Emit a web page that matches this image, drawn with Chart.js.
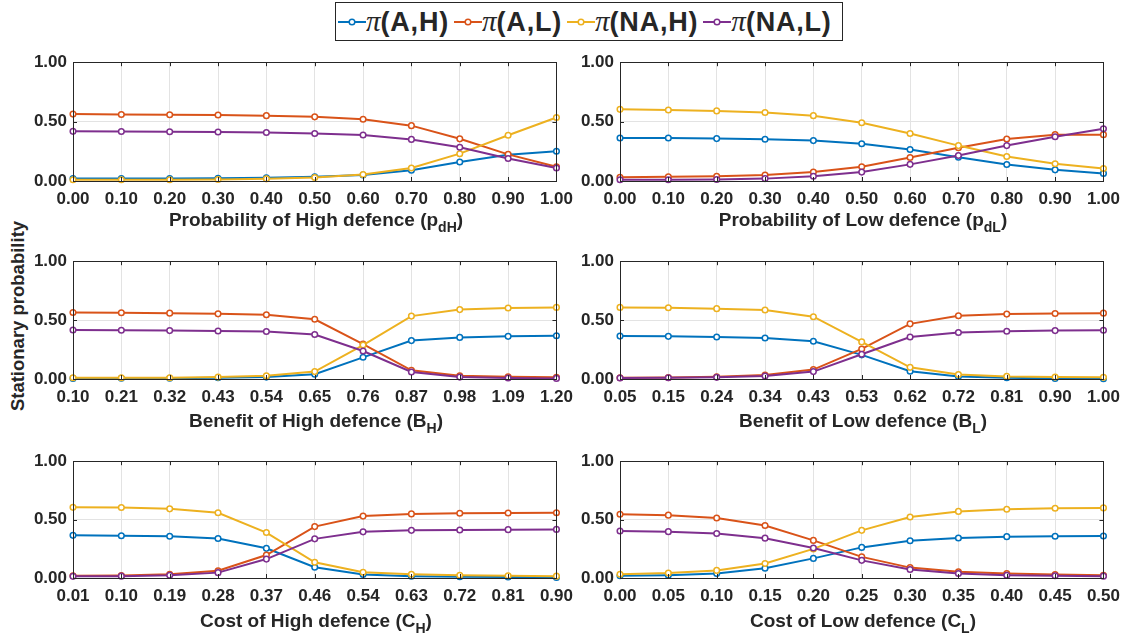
<!DOCTYPE html>
<html><head><meta charset="utf-8">
<script src="https://cdn.jsdelivr.net/npm/chart.js@4.4.0/dist/chart.umd.min.js"></script>
<style>
html,body{margin:0;padding:0;background:#fff;width:1129px;height:643px;overflow:hidden;position:relative;font-family:"Liberation Sans",Arial,sans-serif;color:#262626;}
canvas{position:absolute;}
.xt{position:absolute;text-align:center;font-weight:bold;font-size:19px;line-height:22px;white-space:nowrap;}
.xt sub{font-size:14px;vertical-align:-6px;line-height:0;}
#ylab{position:absolute;left:18px;top:316px;transform:translate(-50%,-50%) rotate(-90deg);font-weight:bold;font-size:18.5px;white-space:nowrap;}
#legend{position:absolute;left:335px;top:2px;width:508px;height:39px;border:1px solid #262626;box-sizing:border-box;display:flex;align-items:center;justify-content:flex-start;padding-left:2px;}
.li{display:flex;align-items:center;margin-right:5px;}
.li svg{display:block;}
.li span{font-size:27px;font-weight:bold;line-height:32px;letter-spacing:0.8px;white-space:nowrap;}
.li span i{font-family:"Liberation Serif",serif;font-weight:normal;font-style:italic;font-size:29px;letter-spacing:0;}
</style>
</head><body>
<div id="legend"></div>
<div id="ylab">Stationary probability</div>
<script>
// ---------- data ----------
const seriesNames = ['(A,H)', '(A,L)', '(NA,H)', '(NA,L)'];
const seriesColors = ['#0072BD', '#D95319', '#EDB120', '#7E2F8E'];
const yTicks = [0, 0.5, 1];

const pdHLabels = ['0.00','0.10','0.20','0.30','0.40','0.50','0.60','0.70','0.80','0.90','1.00'];
const pdH_AH  = [0.020,0.020,0.021,0.023,0.027,0.035,0.050,0.090,0.160,0.220,0.250];
const pdH_AL  = [0.563,0.560,0.558,0.555,0.550,0.540,0.520,0.466,0.355,0.224,0.120];
const pdH_NAH = [0.010,0.010,0.010,0.012,0.018,0.030,0.055,0.110,0.230,0.385,0.534];
const pdH_NAL = [0.418,0.417,0.415,0.413,0.408,0.400,0.387,0.350,0.284,0.190,0.110];

const pdLLabels = ['0.00','0.10','0.20','0.30','0.40','0.50','0.60','0.70','0.80','0.90','1.00'];
const pdL_AH  = [0.362,0.362,0.357,0.351,0.340,0.314,0.265,0.200,0.139,0.094,0.064];
const pdL_AL  = [0.032,0.035,0.040,0.050,0.075,0.120,0.198,0.280,0.354,0.390,0.390];
const pdL_NAH = [0.603,0.598,0.590,0.576,0.550,0.490,0.400,0.298,0.206,0.145,0.105];
const pdL_NAL = [0.010,0.010,0.012,0.020,0.040,0.075,0.140,0.215,0.298,0.373,0.440];

const BHLabels = ['0.10','0.21','0.32','0.43','0.54','0.65','0.76','0.87','0.98','1.09','1.20'];
const BH_AH  = [0.005,0.006,0.007,0.010,0.016,0.041,0.184,0.326,0.353,0.362,0.367];
const BH_AL  = [0.564,0.562,0.559,0.553,0.545,0.507,0.296,0.074,0.027,0.019,0.014];
const BH_NAH = [0.010,0.010,0.011,0.016,0.027,0.063,0.288,0.534,0.589,0.603,0.608];
const BH_NAL = [0.416,0.414,0.411,0.408,0.403,0.378,0.238,0.060,0.016,0.008,0.005];

const BLLabels = ['0.05','0.15','0.24','0.34','0.43','0.53','0.62','0.72','0.81','0.90','1.00'];
const BL_AH  = [0.364,0.362,0.356,0.348,0.320,0.205,0.066,0.022,0.011,0.005,0.003];
const BL_AL  = [0.010,0.012,0.019,0.033,0.080,0.255,0.468,0.537,0.551,0.556,0.559];
const BL_NAH = [0.608,0.605,0.597,0.586,0.529,0.315,0.099,0.038,0.022,0.016,0.014];
const BL_NAL = [0.008,0.010,0.014,0.025,0.063,0.210,0.356,0.395,0.405,0.411,0.414];

const CHLabels = ['0.01','0.10','0.19','0.28','0.37','0.46','0.54','0.63','0.72','0.81','0.90'];
const CH_AH  = [0.365,0.362,0.357,0.338,0.254,0.092,0.030,0.016,0.011,0.008,0.005];
const CH_AL  = [0.019,0.022,0.032,0.062,0.197,0.440,0.530,0.549,0.554,0.557,0.559];
const CH_NAH = [0.605,0.603,0.592,0.559,0.389,0.135,0.049,0.032,0.024,0.019,0.016];
const CH_NAL = [0.014,0.016,0.024,0.046,0.162,0.335,0.395,0.408,0.411,0.414,0.416];

const CLLabels = ['0.00','0.05','0.10','0.15','0.20','0.25','0.30','0.35','0.40','0.45','0.50'];
const CL_AH  = [0.019,0.024,0.038,0.084,0.168,0.262,0.319,0.343,0.354,0.357,0.359];
const CL_AL  = [0.546,0.538,0.514,0.449,0.322,0.181,0.089,0.054,0.038,0.030,0.024];
const CL_NAH = [0.032,0.043,0.065,0.124,0.249,0.408,0.522,0.570,0.589,0.597,0.600];
const CL_NAL = [0.403,0.397,0.381,0.341,0.257,0.151,0.073,0.038,0.024,0.019,0.016];

const xTitles = [
  'Probability of High defence (p<sub>dH</sub>)',
  'Probability of Low defence (p<sub>dL</sub>)',
  'Benefit of High defence (B<sub>H</sub>)',
  'Benefit of Low defence (B<sub>L</sub>)',
  'Cost of High defence (C<sub>H</sub>)',
  'Cost of Low defence (C<sub>L</sub>)'
];

// ---------- layout (styling only) ----------
const colLeft = [73, 620], colRight = [559, 1106];
const rowTop = [58, 257, 457], rowBottom = [181, 379, 578];
const titleCenterY = [220, 421, 621];
const PADL = 60, PADR = 22, PADT = 12, XH = 30;

const panels = [
  {labels: pdHLabels, series: [pdH_AH, pdH_AL, pdH_NAH, pdH_NAL]},
  {labels: pdLLabels, series: [pdL_AH, pdL_AL, pdL_NAH, pdL_NAL]},
  {labels: BHLabels,  series: [BH_AH, BH_AL, BH_NAH, BH_NAL]},
  {labels: BLLabels,  series: [BL_AH, BL_AL, BL_NAH, BL_NAL]},
  {labels: CHLabels,  series: [CH_AH, CH_AL, CH_NAH, CH_NAL]},
  {labels: CLLabels,  series: [CL_AH, CL_AL, CL_NAH, CL_NAL]}
];

// legend
const leg = document.getElementById('legend');
seriesNames.forEach((n, i) => {
  const d = document.createElement('div'); d.className = 'li';
  d.innerHTML = '<svg width="28" height="20"><line x1="0" y1="10" x2="28" y2="10" stroke="' + seriesColors[i] +
    '" stroke-width="2"/><circle cx="14" cy="10" r="2.8" fill="#fff" stroke="' + seriesColors[i] + '" stroke-width="1.5"/></svg>' +
    '<span><i>π</i>' + n + '</span>';
  leg.appendChild(d);
});

const boxPlugin = {
  id: 'box',
  afterDraw(chart) {
    const {ctx, chartArea: a, scales} = chart;
    ctx.save();
    ctx.strokeStyle = '#262626'; ctx.lineWidth = 1;
    ctx.strokeRect(Math.round(a.left) + 0.5, Math.round(a.top) + 0.5, Math.round(a.right - a.left), Math.round(a.bottom - a.top));
    ctx.beginPath();
    const tl = 4;
    scales.x.ticks.forEach((t, i) => {
      const x = Math.round(scales.x.getPixelForTick(i)) + 0.5;
      ctx.moveTo(x, a.bottom); ctx.lineTo(x, a.bottom - tl);
      ctx.moveTo(x, a.top); ctx.lineTo(x, a.top + tl);
    });
    scales.y.ticks.forEach((t, i) => {
      const y = Math.round(scales.y.getPixelForTick(i)) + 0.5;
      ctx.moveTo(a.left, y); ctx.lineTo(a.left + tl, y);
      ctx.moveTo(a.right, y); ctx.lineTo(a.right - tl, y);
    });
    ctx.stroke();
    ctx.restore();
  }
};

panels.forEach((p, idx) => {
  const col = idx % 2, row = Math.floor(idx / 2);
  const pl = colLeft[col], pr = colRight[col], pt = rowTop[row], pb = rowBottom[row];
  const cv = document.createElement('canvas');
  const W = (pr - pl) + PADL + PADR, H = (pb - pt) + PADT + XH;
  cv.width = W; cv.height = H;
  cv.style.left = (pl - PADL) + 'px'; cv.style.top = (pt - PADT) + 'px';
  cv.style.width = W + 'px'; cv.style.height = H + 'px';
  document.body.appendChild(cv);

  const t = document.createElement('div'); t.className = 'xt';
  t.style.left = pl + 'px'; t.style.width = (pr - pl) + 'px'; t.style.top = (titleCenterY[row] - 11) + 'px';
  t.innerHTML = xTitles[idx];
  document.body.appendChild(t);

  new Chart(cv, {
    type: 'line',
    data: {
      labels: p.labels,
      datasets: p.series.map((s, i) => ({
        label: seriesNames[i], data: s,
        borderColor: seriesColors[i], backgroundColor: '#fff',
        borderWidth: 2, pointRadius: 2.8, pointBorderWidth: 1.5,
        pointBackgroundColor: '#fff', pointBorderColor: seriesColors[i],
        tension: 0, order: 3 - i, clip: 8
      }))
    },
    options: {
      responsive: false, animation: false, devicePixelRatio: 1,
      layout: {padding: {left: 0, right: PADR, top: PADT, bottom: 0}},
      plugins: {legend: {display: false}, tooltip: {enabled: false}},
      scales: {
        x: {
          type: 'category', offset: false,
          grid: {color: '#e3e3e3', drawTicks: false, lineWidth: 1},
          border: {display: false},
          ticks: {autoSkip: false, maxRotation: 0, padding: 8, color: '#262626',
                  font: {family: 'Liberation Sans', size: 17, weight: 'bold'}},
          afterFit(s) { s.height = XH; }
        },
        y: {
          min: 0, max: 1,
          afterBuildTicks(s) { s.ticks = yTicks.map(v => ({value: v})); },
          grid: {color: '#e3e3e3', drawTicks: false, lineWidth: 1},
          border: {display: false},
          ticks: {padding: 6, color: '#262626', callback: v => Number(v).toFixed(2),
                  font: {family: 'Liberation Sans', size: 17, weight: 'bold'}},
          afterFit(s) { s.width = PADL; }
        }
      }
    },
    plugins: [boxPlugin]
  });
});
</script>
</body></html>
